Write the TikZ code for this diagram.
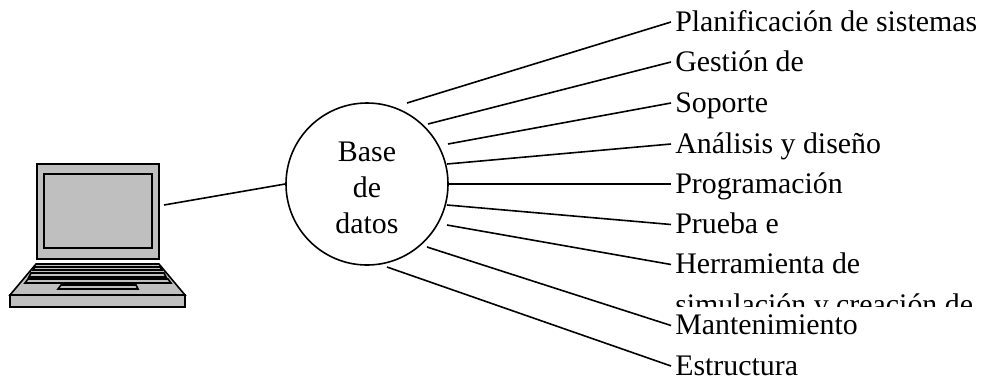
\documentclass[tikz,border=0pt]{standalone}
\usepackage{fontspec}
\setmainfont{Liberation Serif}
\definecolor{lapgray}{gray}{0.75}
\tikzset{
 lbl/.style={anchor=west,inner ysep=0pt,inner xsep=3pt,font=\fontsize{22.4}{27}\selectfont,text height=15pt,text depth=1.5pt},
 conn/.style={draw=black,line width=1.2pt},
 lap/.style={draw=black,line width=1.2pt,fill=lapgray,line join=miter}
}
\begin{document}
\begin{tikzpicture}[x=0.75pt,y=-0.75pt]
\useasboundingbox (0,0) rectangle (993,380);
% laptop
\draw[lap] (37,164) rectangle (159,259);
\draw[lap] (44,174) rectangle (152,248);
\draw[lap] (36,264) -- (159,264) -- (185,295) -- (10,295) -- cycle;
\draw[lap] (10,295) rectangle (185,307);
\draw[lap] (35,267) -- (160,267) -- (162,270) -- (33,270) -- cycle;
\draw[lap] (31,273) -- (164,273) -- (166,277) -- (29,277) -- cycle;
\draw[lap] (28,279) -- (168,279) -- (171,283) -- (25,283) -- cycle;
\draw[lap] (61,285) -- (136,285) -- (138,289) -- (58,289) -- cycle;
\coordinate (lapc) at (164,205);
\node[circle,draw=black,line width=1.2pt,minimum size=121.5pt,inner sep=0pt] (db) at (367,184) {};
\node[inner sep=0pt,align=center,font=\fontsize{22.4}{27}\selectfont] (dbt) at (367,187.5) {Base\\de\\datos};
\draw[conn] (lapc) -- (db.west);
\node[lbl] (a) at (671,22) {Planificación de sistemas};
\node[lbl] (b) at (671,62) {Gestión de};
\node[lbl] (c) at (671,103) {Soporte};
\node[lbl] (d) at (671,144) {Análisis y diseño};
\node[lbl] (e) at (671,184) {Programación};
\node[lbl] (f) at (671,224.5) {Prueba e};
\node[lbl] (g) at (671,264.5) {Herramienta de};
\begin{scope}
\clip (660,285) rectangle (993,306);
\node[lbl] (h) at (671,305) {simulación y creación de};
\end{scope}
\node[lbl] (i) at (671,325.5) {Mantenimiento};
\node[lbl] (j) at (671,366) {Estructura};
\coordinate (sa) at (407,103);
\coordinate (sb) at (428,124);
\coordinate (sc) at (448,144);
\coordinate (sd) at (447,164);
\coordinate (sf) at (447,205);
\coordinate (sg) at (447,225);
\coordinate (si) at (427,247);
\coordinate (sj) at (387,267);
\draw[conn] (sa) -- (a.west);
\draw[conn] (sb) -- (b.west);
\draw[conn] (sc) -- (c.west);
\draw[conn] (sd) -- (d.west);
\draw[conn] (db.east) -- (e.west);
\draw[conn] (sf) -- (f.west);
\draw[conn] (sg) -- (g.west);
\draw[conn] (si) -- (i.west);
\draw[conn] (sj) -- (j.west);
\end{tikzpicture}
\end{document}
